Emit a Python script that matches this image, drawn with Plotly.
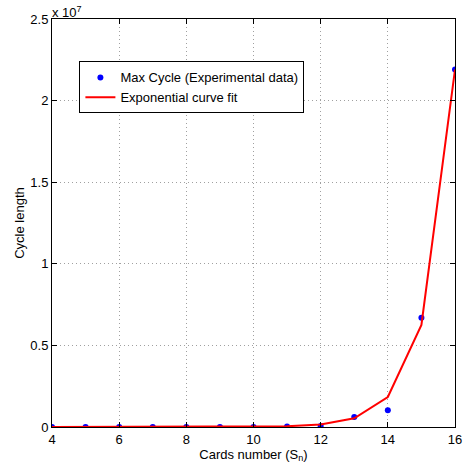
import plotly.graph_objects as go

cards = [4, 5, 6, 7, 8, 9, 10, 11, 12, 13, 14, 15, 16]
max_cycle = [4, 20, 60, 420, 840, 2520, 5040, 27720, 55440, 620000, 1030000, 6690000, 21900000]
fit_curve = [3, 12, 40, 140, 480, 1650, 13000, 45000, 154000, 530000, 1840000, 6250000, 21900000]

ytick_vals = [0, 5e6, 1e7, 1.5e7, 2e7, 2.5e7]
ytick_text = ["0", "0.5", "1", "1.5", "2", "2.5"]
xtick_vals = [4, 6, 8, 10, 12, 14, 16]

fig = go.Figure()
fig.add_trace(go.Scatter(x=cards, y=max_cycle, mode="markers",
                         name="Max Cycle (Experimental data)",
                         marker=dict(color="#0000ff", size=6)))
fig.add_trace(go.Scatter(x=cards, y=fit_curve, mode="lines",
                         name="Exponential curve fit",
                         line=dict(color="#ff0000", width=2)))

axis_common = dict(showline=True, linecolor="black", linewidth=1, mirror="allticks",
                   ticks="inside", ticklen=5, tickcolor="black",
                   showgrid=True, gridcolor="#a0a0a0", griddash="1px,3px", gridwidth=1,
                   zeroline=False, tickfont=dict(size=13, color="black"))

fig.update_xaxes(range=[4, 16], tickvals=xtick_vals,
                 title=dict(text="Cards number (S<sub>n</sub>)", font=dict(size=13, color="black"), standoff=0),
                 **axis_common)
fig.update_yaxes(range=[0, 2.5e7], tickvals=ytick_vals, ticktext=ytick_text,
                 title=dict(text="Cycle length", font=dict(size=13, color="black"), standoff=2),
                 **axis_common)

fig.add_annotation(x=0, y=1, xref="paper", yref="paper", xanchor="left", yanchor="bottom",
                   text="x 10<sup>7</sup>", showarrow=False, font=dict(size=13, color="black"),
                   xshift=-2, yshift=-3)

fig.update_layout(width=471, height=465, margin=dict(l=52, r=9, t=19, b=34),
                  plot_bgcolor="white", paper_bgcolor="white",
                  font=dict(family="Liberation Sans, Arial, sans-serif", color="black"),
                  showlegend=True,
                  legend=dict(x=0.068, y=0.896, xanchor="left", yanchor="top",
                              bgcolor="white", bordercolor="black", borderwidth=1,
                              font=dict(size=13, color="black"), tracegroupgap=0,
                              itemwidth=30))

fig.write_html("out.html", config={"displayModeBar": False},
               post_script="document.body.style.margin='0';document.body.style.overflow='hidden';")
